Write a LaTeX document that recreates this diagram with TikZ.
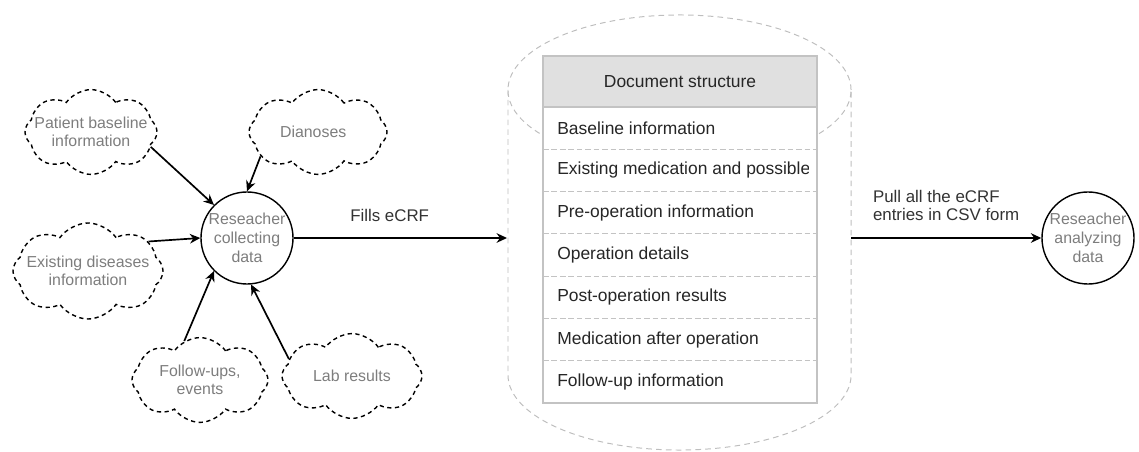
\documentclass[tikz,border=0pt]{standalone}
\usepackage{fontspec}
\setmainfont{Liberation Sans}
\usetikzlibrary{arrows.meta,positioning,shapes.symbols}
\definecolor{txtgray}{RGB}{125,125,125}
\definecolor{cylgray}{RGB}{190,190,190}
\definecolor{tabline}{RGB}{195,195,195}
\definecolor{headfill}{RGB}{224,224,224}

\begin{document}
\begin{tikzpicture}[x=0.025cm,y=-0.025cm,>={Stealth[length=2.6mm,width=2.4mm]},
    puff/.style={cloud,cloud puffs=8,cloud puff arc=110,cloud ignores aspect,draw,line width=1pt,
      dash pattern=on 3pt off 2.5pt,inner sep=0pt},
    pufftxt/.style={text=txtgray,align=center,font=\fontsize{11.3}{12.6}\selectfont},
    actor/.style={circle,draw,line width=1pt,minimum size=2.3cm,inner sep=0pt,
      text=txtgray,align=center,font=\fontsize{11.3}{13.5}\selectfont},
    flow/.style={->,line width=1.2pt},
    lbl/.style={font=\fontsize{12}{12.8}\selectfont,text=black!80},
    cyl/.style={cylgray,line width=0.7pt,dash pattern=on 4pt off 3pt},
    rowtxt/.style={anchor=west,inner sep=0pt,font=\fontsize{12.4}{14}\selectfont,text=black!85}]
  \useasboundingbox (0,0) rectangle (1139,452);

  % data store
  \draw[cyl] (679.5,90) ellipse [x radius=4.2875cm,y radius=1.875cm];
  \draw[cyl] (508,90) -- (508,375) arc[start angle=180,end angle=360,x radius=4.2875cm,y radius=1.875cm] -- (851,90);
  \coordinate (inlet) at (507,238);
  \coordinate (outlet) at (851,238);

  % eCRF table
  \draw[tabline,line width=0.8pt,fill=white] (543,56) rectangle (817,403);
  \draw[tabline,line width=0.8pt,fill=headfill] (543,56) rectangle (817,107);
  \node[lbl,text=black!85,font=\fontsize{12.4}{14}\selectfont] (head) at (680,82) {Document structure};
  \foreach \i in {1,...,6}
    \draw[tabline,line width=0.8pt,dash pattern=on 4pt off 2pt] (543,{107+42.3*\i}) -- (817,{107+42.3*\i});
  \begin{scope}
    \clip (543,56) rectangle (808,403);
    \foreach \txt [count=\i] in {Baseline information,Existing medication and possible,
        Pre-operation information,Operation details,Post-operation results,
        Medication after operation,Follow-up information}
      \node[rowtxt] (r\i) at (557,{107+42.3*(\i-0.5)}) {\txt};
  \end{scope}

  % researchers
  \node[actor] (res) at (247,238) {Reseacher\\collecting\\data};
  \node[actor] (ana) at (1088,238) {Reseacher\\analyzing\\data};

  % sources
  \node[puff,minimum width=3.3cm,minimum height=2.12cm,
    label={[pufftxt]center:Patient baseline\\information}] (base) at (91,132) {};
  \node[puff,minimum width=3.45cm,minimum height=2.12cm,
    label={[pufftxt,xshift=-0.12cm]center:Dianoses}] (diag) at (318,132) {};
  \node[puff,minimum width=3.75cm,minimum height=2.4cm,
    label={[pufftxt]center:Existing diseases\\information}] (dis) at (88,271) {};
  \node[puff,minimum width=3.4cm,minimum height=2.12cm,
    label={[pufftxt]center:Follow-ups,\\events}] (fol) at (200,380) {};
  \node[puff,minimum width=3.5cm,minimum height=2.12cm,
    label={[pufftxt]center:Lab results}] (lab) at (352,376) {};

  \draw[flow] (base.-14) -- (res.135);
  \draw[flow] (diag.203) -- (res.90);
  \draw[flow] (dis.26) -- (res.180);
  \draw[flow] (fol.112) -- (res.225);
  \draw[flow] (lab.165) -- (res.275);

  \draw[flow] (res) -- node[lbl,pos=0.45,above=0.28cm] {Fills eCRF} (inlet);
  \draw[flow] (outlet) -- node[lbl,midway,above=0.3cm,align=left] {Pull all the eCRF\\entries in CSV form} (ana);
\end{tikzpicture}
\end{document}
